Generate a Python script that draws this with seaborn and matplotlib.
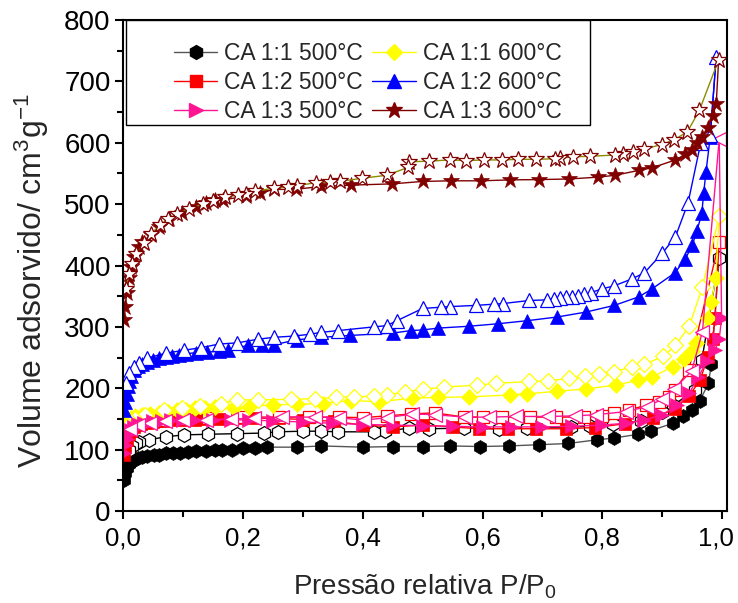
import matplotlib
matplotlib.use("Agg")
import matplotlib.pyplot as plt
import matplotlib.transforms as mtransforms
import seaborn as sns
import pandas as pd
from matplotlib.lines import Line2D
from matplotlib.patches import Rectangle
from matplotlib.ticker import MultipleLocator, FuncFormatter

# ---------------- data ----------------
# CA 1:1 500 °C
x11_500_ads = [0.002,0.004,0.007,0.01,0.014,0.018,0.025,0.032,0.04,0.051,0.06,0.071,0.083,0.095,0.108,0.121,0.138,0.154,0.166,0.182,0.2,0.22,0.24,0.29,0.33,0.4,0.45,0.5,0.546,0.596,0.644,0.695,0.743,0.791,0.82,0.86,0.881,0.918,0.935,0.949,0.963,0.977,0.982,0.995]
y11_500_ads = [50,62,70,77,80,83,86,88,89,91,92,94,94,95,96,97,98,99,99,100,103,103,104,104,106,104,105,105,106,105,106,108,110,116,119,125,131,143,154,164,180,208,240,413]
x11_500_des = [0.995,0.966,0.954,0.918,0.899,0.865,0.818,0.78,0.748,0.675,0.628,0.569,0.51,0.477,0.438,0.419,0.358,0.33,0.3,0.258,0.235,0.19,0.141,0.102,0.072,0.043,0.027,0.021,0.015,0.01]
y11_500_des = [413,246,197,172,161,147,142,138,137,136,134,135,134,135,130,129,129,130,130,129,127,126,125,124,121,116,113,110,106,100]

# CA 1:2 500 °C
x12_500_ads = [0.002,0.004,0.007,0.01,0.013,0.018,0.022,0.03,0.04,0.05,0.06,0.071,0.085,0.1,0.12,0.14,0.16,0.19,0.22,0.26,0.3,0.352,0.4,0.45,0.5,0.55,0.594,0.642,0.69,0.74,0.787,0.837,0.885,0.921,0.945,0.963,0.976,0.984,0.988,0.995]
y12_500_ads = [92,105,116,125,131,137,140,142,144,145,146,147,148,148,149,150,150,151,151,151,149,146,140,137,140,137,134,134,134,134,136,142,152,166,188,213,251,281,314,439]
x12_500_des = [0.995,0.944,0.921,0.911,0.895,0.872,0.845,0.82,0.8,0.77,0.723,0.68,0.632,0.6,0.569,0.52,0.48,0.44,0.4,0.36,0.31,0.26,0.2,0.141,0.1,0.07,0.045,0.03]
y12_500_des = [439,229,197,186,178,172,165,159,155,153,153,153,153,153,153,160,158,155,152,153,153,153,153,151,150,149,147,145]

# CA 1:3 500 °C
x13_500_ads = [0.002,0.004,0.007,0.01,0.013,0.018,0.025,0.035,0.05,0.065,0.08,0.1,0.12,0.15,0.18,0.21,0.25,0.3,0.35,0.4,0.45,0.5,0.55,0.6,0.65,0.7,0.75,0.8,0.84,0.87,0.9,0.925,0.945,0.96,0.975,0.988,0.995,0.999,0.995]
y13_500_ads = [95,108,118,126,132,137,141,144,146,147,148,148,149,149,149,148,147,145,143,141,140,139,138,137,137,137,138,140,143,148,157,172,192,218,245,262,280,314,606]
x13_500_des = [0.995,0.967,0.949,0.92,0.9,0.874,0.84,0.79,0.755,0.71,0.656,0.61,0.57,0.52,0.483,0.44,0.402,0.36,0.32,0.266,0.219,0.18,0.138,0.1,0.07,0.045,0.025,0.012]
y13_500_des = [606,292,228,199,182,170,162,157,155,154,154,153,153,157,158,152,148,152,153,153,151,150,148,148,146,144,140,134]

# CA 1:1 600 °C
x11_600_ads = [0.002,0.005,0.009,0.013,0.02,0.032,0.045,0.06,0.075,0.09,0.105,0.12,0.137,0.154,0.186,0.21,0.25,0.29,0.333,0.38,0.428,0.483,0.526,0.577,0.646,0.675,0.724,0.773,0.822,0.86,0.882,0.918,0.937,0.95,0.957,0.977,0.982,0.989,0.995]
y11_600_ads = [128,138,146,151,154,156,158,159,161,164,165,167,168,170,167,170,173,174,175,180,178,184,185,186,189,191,195,199,205,213,218,235,248,260,273,314,340,379,480]
x11_600_des = [0.995,0.967,0.945,0.922,0.902,0.87,0.85,0.82,0.795,0.771,0.744,0.71,0.678,0.623,0.591,0.536,0.5,0.47,0.44,0.419,0.385,0.355,0.32,0.28,0.225,0.19,0.163,0.129,0.099,0.069,0.036,0.02,0.013,0.008]
y11_600_des = [480,365,301,270,252,239,235,227,223,220,216,212,211,208,205,202,198,194,189,187,186,185,183,182,181,181,175,171,168,164,156,150,145,138]

# CA 1:2 600 °C
x12_600_ads = [0.002,0.004,0.006,0.008,0.01,0.013,0.018,0.025,0.032,0.04,0.05,0.06,0.071,0.082,0.093,0.105,0.121,0.14,0.161,0.175,0.209,0.232,0.252,0.291,0.331,0.379,0.451,0.481,0.5,0.526,0.577,0.625,0.674,0.724,0.772,0.82,0.861,0.883,0.921,0.938,0.95,0.958,0.966,0.969,0.973,0.98,0.99]
y12_600_ads = [164,178,190,203,212,220,230,236,240,243,246,249,251,252,254,256,258,259,260,262,270,270,271,279,283,286,290,294,295,298,301,305,310,316,324,335,349,362,388,410,433,457,485,518,553,610,740]
x12_600_des = [0.99,0.98,0.964,0.943,0.922,0.9,0.87,0.849,0.82,0.8,0.781,0.77,0.76,0.75,0.74,0.73,0.72,0.708,0.678,0.634,0.619,0.589,0.545,0.53,0.5,0.457,0.44,0.419,0.359,0.33,0.312,0.285,0.252,0.226,0.191,0.16,0.13,0.102,0.071,0.04,0.027,0.018,0.01,0.005]
y12_600_des = [740,612,599,502,447,420,388,378,367,362,356,353,350,349,348,347,346,344,343,338,337,335,333,332,330,310,302,300,294,291,288,285,283,280,274,272,266,262,257,249,241,235,225,208]

# CA 1:3 600 °C
x13_600_ads = [0.002,0.004,0.006,0.01,0.013,0.018,0.027,0.032,0.046,0.06,0.077,0.099,0.121,0.138,0.154,0.167,0.206,0.229,0.252,0.288,0.331,0.381,0.449,0.5,0.547,0.597,0.646,0.695,0.745,0.793,0.821,0.861,0.882,0.922,0.938,0.95,0.958,0.967,0.976,0.984,0.99,0.994]
y13_600_ads = [311,333,355,380,398,414,430,438,450,462,475,486,496,502,507,507,513,518,524,524,529,531,533,537,538,538,539.5,540,541,544,547,555,559,572,581,588,599,610,624,643,663,735]
x13_600_des = [0.994,0.962,0.942,0.92,0.899,0.87,0.851,0.835,0.821,0.78,0.751,0.73,0.721,0.69,0.66,0.633,0.602,0.573,0.545,0.51,0.478,0.476,0.44,0.398,0.362,0.345,0.322,0.29,0.275,0.252,0.22,0.205,0.192,0.17,0.15,0.133,0.11,0.09,0.075,0.062,0.047,0.035,0.022,0.015,0.01,0.0045]
y13_600_des = [735,653,618,605,597,590,585,582,580,578,577,575,574,573,573,572,572,571,572,570,569,560,547,542,537,536,535,530,528,526,521,517,515,511,505,500,492,484,476,466,452,436,419,402,386,362]

labels = ["CA 1:1 500°C", "CA 1:2 500°C", "CA 1:3 500°C",
          "CA 1:1 600°C", "CA 1:2 600°C", "CA 1:3 600°C"]
x_ticks = [0.0, 0.2, 0.4, 0.6, 0.8, 1.0]
y_ticks = [0, 100, 200, 300, 400, 500, 600, 700, 800]

# ---------------- style ----------------
sns.set_style("ticks")
plt.rcParams['font.family'] = ['Liberation Sans', 'DejaVu Sans']
plt.rcParams['mathtext.fontset'] = 'custom'
plt.rcParams['mathtext.rm'] = 'Liberation Sans'
plt.rcParams['mathtext.it'] = 'Liberation Sans'

fig = plt.figure(figsize=(7.38, 6.03), dpi=100)
ax = fig.add_axes([0.1667, 0.1526, 0.8184, 0.8142])

series = [
    # x, y, marker colour, line colour, marker, filled, size
    (x11_500_ads, y11_500_ads, "#000000", "#555555", "h", True, 10),
    (x11_500_des, y11_500_des, "#000000", "#000000", "h", False, 10),
    (x12_500_ads, y12_500_ads, "#FF0000", "#FF0000", "s", True, 8),
    (x12_500_des, y12_500_des, "#FF0000", "#FF0000", "s", False, 8),
    (x11_600_ads, y11_600_ads, "#FFFF00", "#FFFF00", "D", True, 8),
    (x11_600_des, y11_600_des, "#FFFF00", "#FFFF00", "D", False, 8),
    (x13_500_ads, y13_500_ads, "#FF1493", "#FF1493", ">", True, 10),
    (x13_500_des, y13_500_des, "#FF1493", "#FF1493", "<", False, 10),
    (x12_600_ads, y12_600_ads, "#0000FF", "#0000FF", "^", True, 10),
    (x12_600_des, y12_600_des, "#0000FF", "#0000FF", "^", False, 10),
    (x13_600_ads, y13_600_ads, "#800000", "#800000", "*", True, 12),
    (x13_600_des, y13_600_des, "#800000", "#8B8B00", "*", False, 12),
]

for xs, ys, mc, lc, mk, filled, ms in series:
    df = pd.DataFrame({"x": xs, "y": ys})
    n = len(xs)
    kw = dict(marker=mk, markersize=ms, markeredgecolor=mc,
              markerfacecolor=mc if filled else "white",
              markeredgewidth=0.9 if not filled else 0.5)
    if filled:
        kw["markevery"] = list(range(n - 1))
    sns.lineplot(data=df, x="x", y="y", sort=False, estimator=None, ax=ax,
                 color=lc, linewidth=1.0, **kw)

ax.set_xlim(0, 1.008)
ax.set_ylim(0, 800)
ax.set_xticks(x_ticks)
ax.set_yticks(y_ticks)
ax.xaxis.set_minor_locator(MultipleLocator(0.1))
ax.yaxis.set_minor_locator(MultipleLocator(50))
ax.xaxis.set_major_formatter(FuncFormatter(lambda v, p: f"{v:.1f}".replace('.', ',')))
ax.tick_params(axis='both', which='major', direction='out', length=6, width=1.5,
               color='black', labelcolor='black')
ax.tick_params(axis='both', which='minor', direction='out', length=4, width=1.5, color='black')
ax.tick_params(axis='y', labelsize=20, pad=3)
ax.tick_params(axis='x', labelsize=18.5, pad=5)
for s in ax.spines.values():
    s.set_visible(True)
    s.set_linewidth(1.5)
    s.set_color('black')

fig.canvas.draw()
xt = ax.get_xticklabels()
xt[-1].set_horizontalalignment('right')
xt[-1].set_transform(xt[-1].get_transform() + mtransforms.ScaledTranslation(0.12, 0, fig.dpi_scale_trans))

ax.set_ylabel("Volume adsorvido/ cm$^3$g$^{-1}$", fontsize=23)
ax.yaxis.set_label_coords(-0.12, 0.47)
ax.set_xlabel("Pressão relativa P/P$_0$", fontsize=20, labelpad=16)

# legend
handles = []
spec = [("#555555", "#000000", "h", 10), ("#FF0000", "#FF0000", "s", 8), ("#FF1493", "#FF1493", ">", 10),
        ("#FFFF00", "#FFFF00", "D", 8), ("#0000FF", "#0000FF", "^", 10), ("#800000", "#800000", "*", 12)]
for (lc, mc, mk, ms), lab in zip(spec, labels):
    handles.append(Line2D([0], [0], color=lc, lw=1.0, marker=mk, markersize=ms,
                          markerfacecolor=mc, markeredgecolor=mc, label=lab))
ax.add_patch(Rectangle((0.005, 0.786), 0.768, 0.214, transform=ax.transAxes,
                       facecolor='white', edgecolor='black', linewidth=1.0, zorder=4))
leg = ax.legend(handles=handles, ncol=2, loc='upper left', bbox_to_anchor=(0.084, 0.956),
                frameon=False, fontsize=16.5, handlelength=1.9, handletextpad=0.3,
                columnspacing=0.4, labelspacing=0.28, borderpad=0.0, borderaxespad=0)
leg.set_zorder(5)

fig.savefig("out.png", dpi=100)
